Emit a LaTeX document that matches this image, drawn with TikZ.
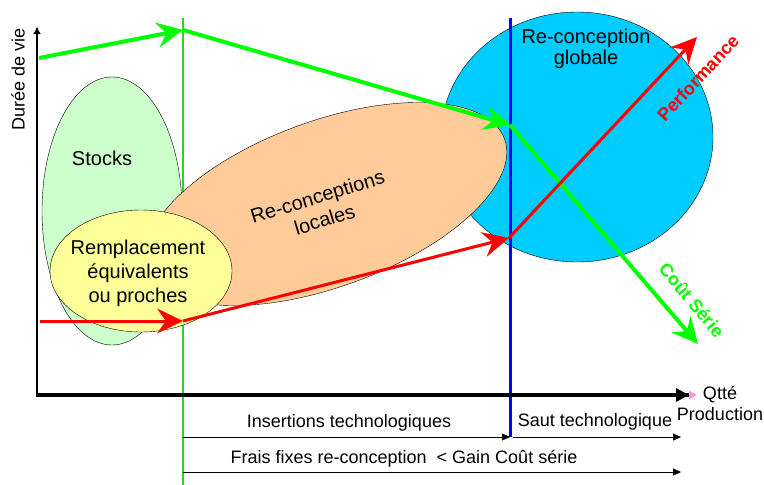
\documentclass[tikz,border=0pt]{standalone}
\usepackage{fontspec}
\setmainfont{Liberation Sans}
\usetikzlibrary{shapes.geometric}
\usetikzlibrary{arrows.meta}
\definecolor{stockgreen}{HTML}{CCFFCC}
\definecolor{peach}{HTML}{FFCC99}
\definecolor{skyblue}{HTML}{00CCFF}
\definecolor{paleyellow}{HTML}{FFFF99}
\definecolor{trendgreen}{HTML}{00FF00}
\definecolor{markgreen}{HTML}{33CC33}
\definecolor{tippink}{HTML}{FF99CC}

\begin{document}
\begin{tikzpicture}[x=1pt, y=-1pt,
blobnode/.style={ellipse, draw=black, thin, inner sep=0pt},
bigtext/.style={font=\fontsize{20}{24}\selectfont, align=center},
smalltext/.style={font=\fontsize{18}{21}\selectfont, align=center},
bigtip/.style={-{Stealth[length=26pt, width=25pt, inset=9pt]}},
smalltip/.style={-{Triangle[length=8pt, width=7pt]}}]
\useasboundingbox (0,0) rectangle (764,485);

\node[blobnode, fill=stockgreen, minimum width=140pt, minimum height=268pt] (stocks) at (112,211) {};
\node[bigtext] (stockslabel) at (102,158) {Stocks};

\coordinate (gtop) at (183,18);
\coordinate (gbot) at (183,485);
\draw[markgreen, line width=2pt] (gtop) -- (gbot);

\node[blobnode, fill=skyblue, minimum width=272pt, minimum height=250pt] (globale) at (577,137) {};
\node[bigtext, font=\fontsize{20}{21}\selectfont] (globalelabel) at (586,49) {Re-conception\\globale};

\node[blobnode, fill=peach, minimum width=380pt, minimum height=166pt, rotate=20] (locales) at (326,204) {};
\node[bigtext, rotate=17] (localeslabel) at (321,208) {Re-conceptions\\locales};

\coordinate (btop) at (510,18);
\coordinate (bbot) at (510,437);
\draw[blue, line width=3pt] (btop) -- (bbot);

\node[blobnode, fill=paleyellow, minimum width=182pt, minimum height=122pt] (remplacement) at (141,271) {};
\node[bigtext] (remplacementlabel) at (138,273) {Remplacement\\équivalents\\ou proches};

% axes
\coordinate (origin) at (37,397);
\coordinate (ytop) at (37,26);
\coordinate (xstart) at (36,395);
\coordinate (xend) at (697,395);
\draw[line width=2.5pt, -{Triangle[length=6pt, width=7pt] Triangle[tippink, length=2pt, width=2pt]}] (origin) -- (ytop);
\draw[line width=4pt, -{Triangle[length=13pt, width=13pt] Triangle[tippink, length=8pt, width=8pt]}] (xstart) -- (xend);
\node[smalltext, rotate=90] (ylabel) at (18,79) {Durée de vie};
\node[smalltext] (xlabel) at (720,403) {Qtté\\Production};

% bottom spans
\coordinate (ins1) at (183,437);
\coordinate (ins2) at (510,437);
\coordinate (saut1) at (513,437);
\coordinate (saut2) at (681,437);
\coordinate (frais1) at (183,472);
\coordinate (frais2) at (681,472);
\draw[smalltip] (ins1) -- (ins2);
\draw[smalltip] (saut1) -- (saut2);
\draw[smalltip] (frais1) -- (frais2);
\node[smalltext] (inslabel) at (349,423) {Insertions technologiques};
\node[smalltext] (sautlabel) at (595,422) {Saut technologique};
\node[smalltext] (fraislabel) at (404,459) {Frais fixes re-conception~ < Gain Coût série};

% cost curve
\coordinate (g1) at (39,58);
\coordinate (g2) at (183,30);
\coordinate (g3) at (510,125);
\coordinate (g4) at (698,344);
\draw[trendgreen, line width=4pt, bigtip] (g1) -- (g2);
\draw[trendgreen, line width=4pt, bigtip] (g2) -- (g3);
\draw[trendgreen, line width=4pt, bigtip] (g3) -- (g4);
\node[trendgreen, smalltext, font=\fontsize{18}{21}\selectfont\bfseries, rotate=-50] (coutlabel) at (692,300) {Coût Série};

% performance curve
\coordinate (r1) at (40,321);
\coordinate (r2) at (183,321);
\coordinate (r3) at (509,238);
\coordinate (r4) at (697,37);
\draw[red, line width=3pt, bigtip] (r1) -- (r2);
\draw[red, line width=3pt, bigtip] (r2) -- (r3);
\draw[red, line width=3pt, bigtip] (r3) -- (r4);
\node[red, smalltext, font=\fontsize{18}{21}\selectfont\bfseries, rotate=47] (perflabel) at (698,78) {Performance};
\end{tikzpicture}
\end{document}
